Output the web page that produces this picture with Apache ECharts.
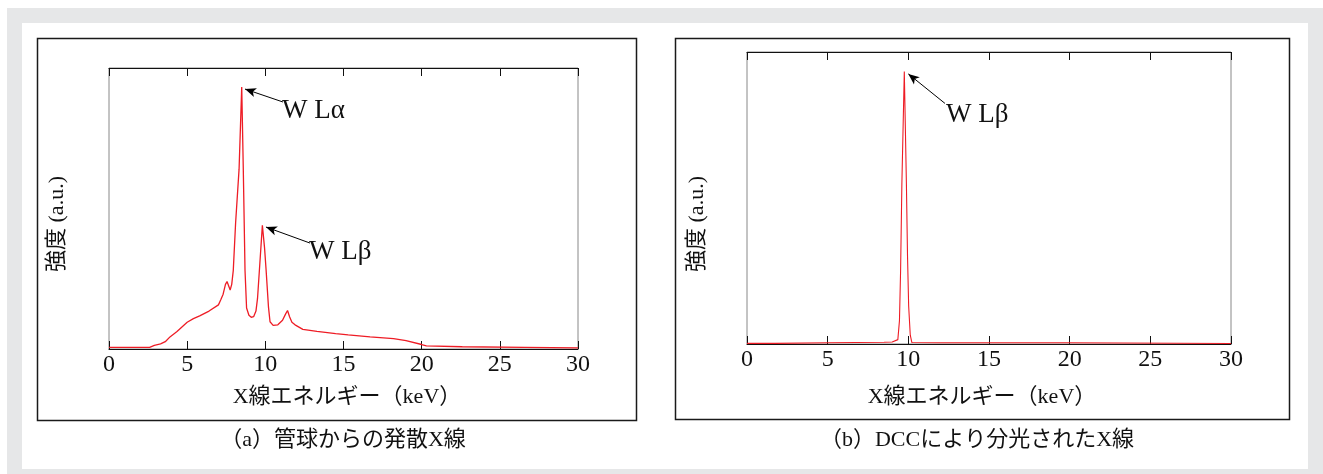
<!DOCTYPE html>
<html><head><meta charset="utf-8">
<script src="https://cdn.jsdelivr.net/npm/echarts@6/dist/echarts.min.js"></script>
<style>html,body{margin:0;padding:0;background:#fff}#c{width:1323px;height:474px}</style>
</head><body><div id="c"></div>
<script>
// ---- data ----
const xTicks = [0, 5, 10, 15, 20, 25, 30];
// (a) scattered X-ray from tube
const energyA = [0, 2.6, 2.9, 3.3, 3.6, 3.9, 4.35, 5.0, 5.4, 5.8, 6.4, 7.0, 7.15, 7.3, 7.45, 7.55, 7.65, 7.75, 7.85, 7.95, 8.1, 8.32, 8.49, 8.59, 8.7, 8.8, 8.95, 9.1, 9.25, 9.4, 9.5, 9.62, 9.81, 9.95, 10.05, 10.2, 10.3, 10.5, 10.8, 11.1, 11.3, 11.42, 11.55, 11.7, 11.9, 12.4, 13.3, 14.5, 15.3, 16.7, 18.2, 19.0, 20.0, 20.3, 22.6, 26.6, 30];
const intensityA = [0.6, 0.6, 1.3, 1.8, 2.6, 4.3, 6.2, 9.5, 10.8, 11.8, 13.5, 15.7, 17.5, 19.5, 23.0, 24.0, 22.5, 21.0, 23.0, 28, 45, 64, 93.2, 64, 28, 14.6, 12.0, 11.3, 11.5, 13.5, 18, 28, 44, 36, 28, 15, 9.7, 8.4, 8.6, 10.2, 12.5, 13.7, 11.5, 9.5, 8.6, 7.0, 6.3, 5.5, 5.0, 4.3, 3.7, 3.0, 1.6, 1.1, 0.8, 0.6, 0.4];
// (b) after DCC
const energyB = [0, 1.75, 1.8, 5, 8.5, 9.0, 9.35, 9.45, 9.52, 9.6, 9.75, 9.88, 9.95, 10.02, 10.12, 10.22, 12, 15, 19.9, 20.0, 30];
const intensityB = [0.2, 0.2, 0.45, 0.45, 0.6, 0.7, 1.5, 8, 25, 55, 93.3, 55, 30, 13, 3, 0.5, 0.45, 0.45, 0.45, 0.15, 0.15];
// annotations: [label, arrow head (E, I), arrow tail (E, I)]
const annA = [["W Lα", [8.70, 92.5], [11.13, 87.9]], ["W Lβ", [10.04, 43.4], [12.86, 37.7]]];
const annB = [["W Lβ", [10.0, 92.5], [12.27, 82.4]]];
const xTitle = "X線エネルギー（keV）";
const yTitle = "強度 (a.u.)";
const captions = ["（a）管球からの発散X線", "（b）DCCにより分光されたX線"];

const RED = '#ee1c25';
const SERIF = "'Liberation Serif','Noto Sans CJK JP',serif";
const chart = echarts.init(document.getElementById('c'), null, {renderer: 'canvas'});

function zip(a, b) { return a.map((v, i) => [v, b[i]]); }

function xAxes(gi) {
  return [{
    gridIndex: gi, type: 'value', min: 0, max: 30, interval: 5, position: 'bottom',
    axisLine: {show: true, lineStyle: {color: '#111', width: 1}},
    axisTick: {show: true, inside: true, length: 8, lineStyle: {color: '#111'}},
    axisLabel: {show: true, margin: 4, fontFamily: SERIF, fontSize: 24, color: '#111',
      formatter: v => xTicks.includes(v) ? String(v) : ''},
    splitLine: {show: false}
  }, {
    gridIndex: gi, type: 'value', min: 0, max: 30, interval: 5, position: 'top',
    axisLine: {show: true, lineStyle: {color: '#111', width: 1}},
    axisTick: {show: true, inside: true, length: 8, lineStyle: {color: '#111'}},
    axisLabel: {show: false}, splitLine: {show: false}
  }];
}
function yAxis(gi) {
  return {gridIndex: gi, type: 'value', min: 0, max: 100,
    axisLine: {show: false}, axisTick: {show: false}, axisLabel: {show: false}, splitLine: {show: false}};
}
function arrows(list) {
  return {
    silent: true, animation: false, symbol: ['none', 'arrow'], symbolSize: [7, 11],
    lineStyle: {color: '#000', width: 1, type: 'solid'}, label: {show: false},
    data: list.map(a => [{coord: a[2]}, {coord: a[1]}])
  };
}

const grids = [
  {left: 109, top: 68, width: 469, height: 281, show: true, borderColor: '#888', borderWidth: 1},
  {left: 747, top: 52, width: 484, height: 292, show: true, borderColor: '#888', borderWidth: 1}
];

const xa = xAxes(0).concat(xAxes(1));
const T = (x, y, text, size, extra) => Object.assign({type: 'text', x: x, y: y,
  style: {text: text, fontFamily: SERIF, fontSize: size, fill: '#111', align: 'center', verticalAlign: 'middle'}}, extra || {});

const graphics = [
  {type: 'rect', z: -10, shape: {x: 7, y: 8, width: 1316, height: 466}, style: {fill: '#e6e7e8'}},
  {type: 'rect', z: -9, shape: {x: 22, y: 23, width: 1286, height: 446}, style: {fill: '#ffffff'}},
  {type: 'rect', z: -8, shape: {x: 37.5, y: 38.5, width: 599, height: 382}, style: {fill: 'none', stroke: '#1a1a1a', lineWidth: 1.5}},
  {type: 'rect', z: -8, shape: {x: 675.5, y: 38.5, width: 614, height: 381}, style: {fill: 'none', stroke: '#1a1a1a', lineWidth: 1.5}},
  T(57, 224, yTitle, 22, {rotation: Math.PI / 2}),
  T(697, 224, yTitle, 22, {rotation: Math.PI / 2}),
  T(347, 397, xTitle, 22),
  T(982, 397, xTitle, 22),
  T(343, 440, captions[0], 22),
  T(977, 440, captions[1], 22)
];

chart.setOption({
  animation: false,
  grid: grids,
  xAxis: xa,
  yAxis: [yAxis(0), yAxis(1)],
  series: [
    {type: 'line', xAxisIndex: 0, yAxisIndex: 0, data: zip(energyA, intensityA), showSymbol: false,
      lineStyle: {color: RED, width: 1.3}, itemStyle: {color: RED}, markLine: arrows(annA), z: 5},
    {type: 'line', xAxisIndex: 2, yAxisIndex: 1, data: zip(energyB, intensityB), showSymbol: false,
      lineStyle: {color: RED, width: 1.1}, itemStyle: {color: RED}, markLine: arrows(annB), z: 5}
  ],
  graphic: graphics
});

// annotation labels placed at the tail end of each arrow
const labelGraphics = [];
annA.forEach(a => {
  const p = chart.convertToPixel({xAxisIndex: 0, yAxisIndex: 0}, a[2]);
  labelGraphics.push({type: 'text', x: p[0] - 1, y: p[1] + 9, style: {text: a[0], fontFamily: SERIF, fontSize: 27, fill: '#111', align: 'left', verticalAlign: 'middle'}});
});
annB.forEach(a => {
  const p = chart.convertToPixel({xAxisIndex: 2, yAxisIndex: 1}, a[2]);
  labelGraphics.push({type: 'text', x: p[0] + 1, y: p[1] + 12, style: {text: a[0], fontFamily: SERIF, fontSize: 27, fill: '#111', align: 'left', verticalAlign: 'middle'}});
});
chart.setOption({graphic: graphics.concat(labelGraphics)});
</script></body></html>
